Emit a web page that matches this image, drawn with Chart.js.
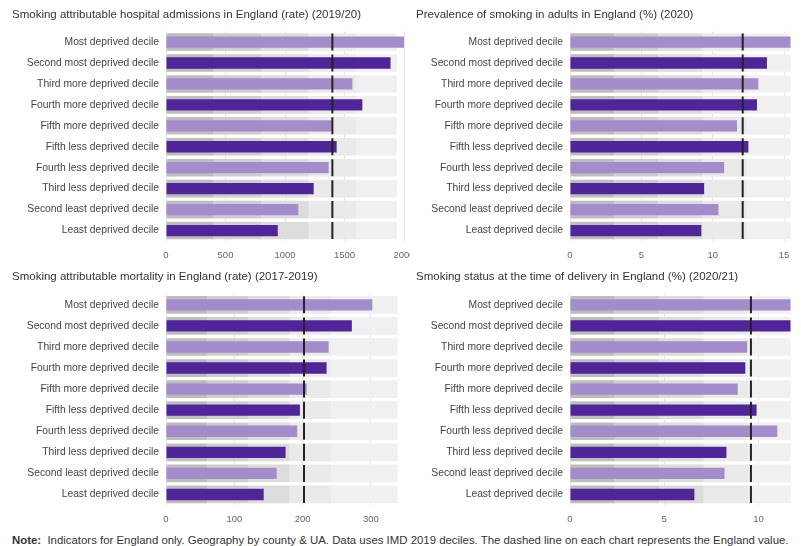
<!DOCTYPE html>
<html>
<head>
<meta charset="utf-8">
<script src="https://cdn.jsdelivr.net/npm/chart.js@4.4.0/dist/chart.umd.min.js"></script>
<style>
  body { margin: 0; background: #fff; font-family: "Liberation Sans", Arial, sans-serif; }
  #page { position: relative; width: 801px; height: 546px; overflow: hidden; }
  .box { position: absolute; overflow: hidden; }
  .title { position: absolute; font-size: 11.5px; color: #333; white-space: nowrap; line-height: 14px; }
  #note { position: absolute; left: 12px; top: 533px; font-size: 11.4px; color: #333; white-space: nowrap; line-height: 14px; }
</style>
</head>
<body>
<div id="page">
  <div class="box" style="left:0;top:0;width:410px;height:262px"><canvas id="c1" width="416" height="262"></canvas></div>
  <div class="box" style="left:410px;top:0;width:391px;height:262px"><canvas id="c2" width="391" height="262"></canvas></div>
  <div class="box" style="left:0;top:262px;width:410px;height:264px"><canvas id="c3" width="410" height="264"></canvas></div>
  <div class="box" style="left:410px;top:262px;width:391px;height:264px"><canvas id="c4" width="391" height="264"></canvas></div>
  <div class="title" style="left:12px;top:7px">Smoking attributable hospital admissions in England (rate) (2019/20)</div>
  <div class="title" style="left:416px;top:7px">Prevalence of smoking in adults in England (%) (2020)</div>
  <div class="title" style="left:12px;top:269px">Smoking attributable mortality in England (rate) (2017-2019)</div>
  <div class="title" style="left:416px;top:269px">Smoking status at the time of delivery in England (%) (2020/21)</div>
  <div id="note"><b>Note:</b>&nbsp; Indicators for England only. Geography by county &amp; UA. Data uses IMD 2019 deciles. The dashed line on each chart represents the England value.</div>
</div>
<script>
var deciles = ['Most deprived decile', 'Second most deprived decile', 'Third more deprived decile',
  'Fourth more deprived decile', 'Fifth more deprived decile', 'Fifth less deprived decile',
  'Fourth less deprived decile', 'Third less deprived decile', 'Second least deprived decile',
  'Least deprived decile'];

// values
var admissions = [2000, 1887, 1566, 1650, 1392, 1434, 1367, 1241, 1112, 939];
var prevalence = [15.6, 13.8, 13.2, 13.1, 11.7, 12.5, 10.8, 9.4, 10.4, 9.2];
var mortality = [302, 272, 238, 235, 206, 196, 192, 175, 162, 143];
var delivery = [12.5, 12.2, 9.4, 9.3, 8.9, 9.9, 11.0, 8.3, 8.2, 6.6];

// England value (dashed line)
var englandAdmissions = 1398;
var englandPrevalence = 12.1;
var englandMortality = 202;
var englandDelivery = 9.6;

// background band limits
var bandsAdmissions = [0, 400, 800, 1200, 1600, 1940];
var bandsPrevalence = [0, 3.1, 6.2, 9.3, 12.4, 15.5];
var bandsMortality = [0, 60, 120, 181, 242, 339];
var bandsDelivery = [0, 2.37, 4.73, 7.1, 9.47, 11.84];

// x axis ticks
var ticksAdmissions = [0, 500, 1000, 1500, 2000];
var ticksPrevalence = [0, 5, 10, 15];
var ticksMortality = [0, 100, 200, 300];
var ticksDelivery = [0, 5, 10];

var barColors = ['#a48bc9', '#4f2597'];
var bandColors = ['#bdbdbd', '#cecece', '#dcdcdc', '#eaeaea', '#f0f0f0'];

function drawPanel(id, values, england, bands, tickList, xmax, yWidth, padTop, padRight) {
    var datasets = [];

    // england marker, one short line per row
    var marks = [];
    for (var i = 0; i < deciles.length; i++) {
        marks.push({x: england, y: deciles[i]});
    }
    datasets.push({
        type: 'scatter',
        data: marks,
        pointStyle: 'line',
        rotation: 90,
        radius: 8.5,
        hoverRadius: 8.5,
        borderWidth: 2,
        borderColor: '#222'
    });

    var cols = [];
    for (var i = 0; i < values.length; i++) cols.push(barColors[i % 2]);
    datasets.push({
        type: 'bar',
        data: values,
        backgroundColor: cols,
        grouped: false,
        categoryPercentage: 1,
        barPercentage: 0.54
    });

    for (var b = 0; b < bands.length - 1; b++) {
        var d = [];
        for (var i = 0; i < deciles.length; i++) d.push([bands[b], bands[b + 1]]);
        datasets.push({
            type: 'bar',
            data: d,
            backgroundColor: bandColors[b],
            grouped: false,
            categoryPercentage: 1,
            barPercentage: 0.84
        });
    }

    new Chart(document.getElementById(id), {
        type: 'bar',
        data: {labels: deciles, datasets: datasets},
        options: {
            indexAxis: 'y',
            responsive: false,
            animation: false,
            layout: {padding: {top: padTop, right: padRight, left: 0, bottom: 0}},
            plugins: {legend: {display: false}, tooltip: {enabled: false}},
            scales: {
                x: {
                    min: 0,
                    max: xmax,
                    grid: {color: '#e6e6e6', drawTicks: false},
                    border: {display: false},
                    afterBuildTicks: function(scale) {
                        scale.ticks = tickList.map(function(v) { return {value: v}; });
                    },
                    ticks: {padding: 9, color: '#666',
                        font: {family: 'Liberation Sans', size: 9.5},
                        callback: function(v) { return String(v); }},
                    afterFit: function(scale) {
                        scale.height = 21;
                        scale.paddingLeft = 0;
                        scale.paddingRight = 0;
                    }
                },
                y: {
                    grid: {display: false, drawTicks: false},
                    border: {display: false},
                    ticks: {padding: 7, color: '#444',
                        font: {family: 'Liberation Sans', size: 10.3}},
                    afterFit: function(scale) {
                        scale.width = yWidth;
                    }
                }
            }
        }
    });
}

drawPanel('c1', admissions, englandAdmissions, bandsAdmissions, ticksAdmissions, 2000, 166, 31.6, 12);
drawPanel('c2', prevalence, englandPrevalence, bandsPrevalence, ticksPrevalence, 15.45, 160, 31.6, 0);
drawPanel('c3', mortality, englandMortality, bandsMortality, ticksMortality, 340, 166, 32.3, 11.7);
drawPanel('c4', delivery, englandDelivery, bandsDelivery, ticksDelivery, 11.7, 160, 32.3, 0);
</script>
</body>
</html>
